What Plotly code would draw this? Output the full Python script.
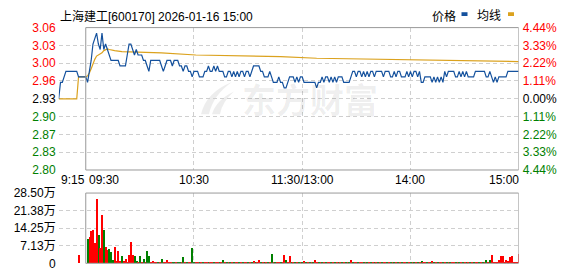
import plotly.graph_objects as go

# ---------------- data ----------------
title_text = "上海建工[600170] 2026-01-16 15:00"
legend_names = ["价格", "均线"]
watermark = "东方财富"

# minute offsets from 09:30 (negative = call auction 09:15-09:29)
pre_minutes = [-15, -14, -13, -12, -11, -10, -9, -8, -7, -6, -5, -4, -3, -2, -1]
pre_price = [2.93, 2.96, 2.96, 2.97, 2.98, 2.98, 2.98, 2.98, 2.98, 2.98, 2.98,
             2.97, 2.97, 2.97, 2.97]

minutes = list(range(0, 241))
price = [
    2.97, 2.96, 2.98, 3.00, 3.03, 3.04, 3.05, 3.03, 3.02, 3.05,
    3.02, 3.03, 3.02, 3.01, 3.00, 3.00, 3.00, 3.00, 3.00, 2.99,
    2.99, 2.99, 2.99, 3.01, 3.03, 3.03, 3.02, 3.01, 3.02, 3.01,
    3.01, 3.01, 3.00, 3.00, 2.99, 2.98, 3.00, 3.00, 3.00, 3.00,
    3.00, 3.00, 2.99, 2.98, 2.99, 3.00, 3.00, 3.00, 2.99, 3.00,
    3.00, 3.00, 2.99, 2.99, 2.98, 2.99, 2.99, 2.98, 2.98, 2.97,
    2.98, 2.98, 2.98, 2.97, 2.97, 2.97, 2.98, 2.98, 2.99, 2.98,
    2.98, 2.99, 2.98, 2.99, 2.98, 2.98, 2.98, 2.97, 2.97, 2.98,
    2.98, 2.97, 2.98, 2.97, 2.98, 2.97, 2.98, 2.98, 2.97, 2.98,
    2.98, 2.97, 2.98, 2.99, 2.99, 2.99, 2.99, 2.98, 2.98, 2.97,
    2.97, 2.97, 2.98, 2.97, 2.96, 2.96, 2.96, 2.97, 2.96, 2.96,
    2.95, 2.95, 2.96, 2.97, 2.97, 2.97, 2.96, 2.97, 2.96, 2.97,
    2.97, 2.96, 2.96, 2.96, 2.96, 2.96, 2.96, 2.96, 2.95, 2.96,
    2.96, 2.97, 2.96, 2.97, 2.97, 2.96, 2.97, 2.96, 2.97, 2.96,
    2.97, 2.97, 2.97, 2.96, 2.96, 2.96, 2.96, 2.97, 2.98, 2.98,
    2.97, 2.98, 2.98, 2.97, 2.98, 2.97, 2.98, 2.97, 2.98, 2.98,
    2.97, 2.98, 2.98, 2.98, 2.98, 2.97, 2.98, 2.98, 2.98, 2.97,
    2.97, 2.98, 2.97, 2.98, 2.98, 2.97, 2.97, 2.97, 2.98, 2.97,
    2.98, 2.97, 2.98, 2.98, 2.97, 2.98, 2.96, 2.96, 2.97, 2.97,
    2.97, 2.97, 2.96, 2.97, 2.96, 2.97, 2.96, 2.97, 2.96, 2.98,
    2.97, 2.98, 2.98, 2.98, 2.98, 2.97, 2.97, 2.98, 2.97, 2.98,
    2.97, 2.98, 2.97, 2.97, 2.97, 2.97, 2.98, 2.98, 2.98, 2.98,
    2.98, 2.98, 2.97, 2.97, 2.98, 2.97, 2.96, 2.97, 2.96, 2.97,
    2.97, 2.97, 2.97, 2.97, 2.98, 2.98, 2.98, 2.98, 2.98, 2.98,
    2.98,
]

avg_minutes = [-15, -5, -4, 0, 1, 2, 3, 4, 5, 6, 7, 8, 9, 10, 11, 12, 13, 14,
               16, 20, 42, 61, 88, 108, 128, 162, 186, 225, 240]
avg_price = [2.93, 2.93, 2.97, 2.970, 2.972, 2.977, 2.985, 2.994, 3.002, 3.008,
             3.010, 3.011, 3.014, 3.018, 3.020, 3.021, 3.020, 3.019,
             3.018, 3.016, 3.014, 3.010, 3.009, 3.007, 3.004, 3.002, 3.000,
             2.998, 2.998]

vol_minutes = [-4] + minutes
volume_wan = [3.5] + [
    0, 10.0, 10.5, 13.1, 13.5, 8.4, 26.2, 11.6, 6.2, 19.6,
    13.5, 6.4, 5.4, 5.8, 4.5, 1.5, 6.5, 1.0, 4.9, 1.0,
    3.1, 1.0, 1.9, 0.5, 3.5, 8.7, 3.2, 2.8, 0.9, 0.6,
    3.1, 0.7, 1.8, 0.7, 5.1, 3.1, 0.5, 1.0, 0.5, 0.4,
    0.4, 0.4, 1.9, 0.4, 0.4, 1.3, 0.4, 0.4, 0.4, 0.4,
    0.4, 0.4, 0.4, 0.4, 2.7, 0.4, 0.4, 0.4, 0.4, 6.2,
    0.3, 0.4, 0.5, 0.4, 0.3, 0.4, 0.4, 0.3, 0.4, 0.5,
    0.4, 0.4, 0.3, 0.4, 0.4, 0.4, 1.2, 0.4, 0.3, 0.4,
    0.4, 0.3, 0.4, 0.4, 0.4, 0.3, 0.4, 0.4, 0.5, 0.4,
    0.4, 0.4, 0.4, 0.8, 0.4, 0.3, 1.2, 0.4, 0.4, 0.3,
    0.4, 0.4, 0.4, 3.6, 0.4, 0.4, 0.3, 0.4, 0.4, 0.4,
    3.2, 1.5, 0.4, 2.8, 0.4, 0.4, 0.3, 0.4, 0.4, 0.4,
    0.4, 0.8, 0.4, 0.4, 0.3, 0.4, 0.4, 1.2, 0.4, 0.4,
    0.4, 0.3, 0.4, 0.4, 0.4, 0.4, 0.3, 0.4, 0.4, 0.4,
    0.4, 0.4, 0.3, 0.4, 0.4, 0.4, 0.4, 1.5, 0.4, 0.4,
    0.4, 0.3, 0.4, 0.4, 0.4, 0.4, 0.4, 0.3, 0.4, 0.4,
    0.4, 0.4, 0.3, 0.4, 0.4, 0.4, 0.4, 0.4, 0.3, 0.4,
    0.4, 0.4, 0.4, 0.3, 0.4, 0.4, 0.4, 0.4, 0.3, 0.4,
    0.4, 0.4, 0.4, 0.4, 0.3, 0.4, 0.8, 0.4, 0.4, 0.4,
    0.4, 0.3, 0.8, 0.4, 0.4, 0.4, 0.3, 0.4, 0.4, 0.4,
    0.4, 0.4, 0.3, 0.4, 0.4, 0.4, 0.4, 0.3, 0.4, 0.4,
    0.4, 0.4, 0.4, 0.3, 0.4, 0.4, 0.4, 0.4, 0.3, 0.4,
    0.4, 0.4, 1.2, 0.4, 1.2, 3.5, 0.6, 0.4, 0.3, 1.2,
    3.1, 2.8, 0.3, 1.2, 0.8, 2.4, 3.1, 0.3, 0.4, 0.4,
    3.8,
]
vol_dir = ("R"
           "RGRRRRRGRR" "GRRGGGRRRR" "GRRRRRRGGR" "GRGRGGRRRR" "GRGRRRRRGG"
           "RGGRGRGRRG" "GRRGRGRRGR" "RGRRGRGRGR" "GRGRRGRGRR" "GRGRGRRGRG"
           "RGRGRGRRGR" "RGRRGRGRGR" "GRGRGRGRRG" "RGRGRRGRGR" "GRGRGRGRGR"
           "RGRRGRGRGR" "GRGRGRRGRG" "RGRGRGRRGR" "GRGRGRGRRG" "RGRGRGRRGR"
           "GRGRRGRGRG" "RGRGRGRRGR" "GRGRGRRRRR" "RRRRRRRRRR" "R")

price_ticks = [2.80, 2.8325, 2.865, 2.8975, 2.93, 2.9625, 2.995, 3.0275, 3.06]
price_labels = ["2.80", "2.83", "2.87", "2.90", "2.93", "2.96", "3.00", "3.03", "3.06"]
pct_labels = ["4.44%", "3.33%", "2.22%", "1.11%", "0.00%", "1.11%", "2.22%", "3.33%", "4.44%"]
vol_ticks = [0, 7.125, 14.25, 21.375, 28.5]
vol_labels = ["0", "7.13万", "14.25万", "21.38万", "28.50万"]
time_ticks = [-15, 0, 60, 120, 180, 240]
time_labels = ["9:15", "09:30", "10:30", "11:30/13:00", "14:00", "15:00"]

# ---------------- style ----------------
W, H = 578, 276
BLUE = "#14519d"
GOLD = "#dba21e"
RED = "#ff0000"
GREEN = "#008000"
GRID = "#cfcfcf"
FRAME = "#999999"
FONT = "Liberation Sans, Arial, Noto Sans CJK SC, sans-serif"

X0, X1 = 58.7, 518.7
MAIN_T, MAIN_B = 21.7, 171.7
VOL_T, VOL_B = 196.0, 270.0


def px(x):
    return x / W


def py(y):
    return 1 - y / H


def colored(labels, mid_color):
    n = len(labels)
    out = []
    for i, t in enumerate(labels):
        c = GREEN if i < n // 2 else (mid_color if i == n // 2 else RED)
        out.append(f"<span style='color:{c}'>{t}</span>")
    return out


fig = go.Figure()

fig.add_trace(go.Scatter(x=avg_minutes, y=avg_price, mode="lines",
                         line=dict(color=GOLD, width=1.2), xaxis="x", yaxis="y",
                         hoverinfo="skip"))
fig.add_trace(go.Scatter(x=pre_minutes + minutes, y=pre_price + price, mode="lines",
                         line=dict(color=BLUE, width=1.2), xaxis="x", yaxis="y2",
                         hoverinfo="skip"))
fig.add_trace(go.Bar(x=vol_minutes, y=volume_wan, width=0.6,
                     marker=dict(color=[RED if d == "R" else GREEN for d in vol_dir],
                                 line=dict(width=0)),
                     xaxis="x2", yaxis="y3", hoverinfo="skip"))

grid = dict(showgrid=True, gridcolor=GRID, gridwidth=1, griddash="4px,3px",
            zeroline=False, showline=False, ticks="")

fig.update_layout(
    width=W, height=H, margin=dict(l=0, r=0, t=0, b=0),
    paper_bgcolor="white", plot_bgcolor="white", showlegend=False,
    font=dict(family=FONT, size=12, color="#000"),
    hovermode=False, bargap=0,
    xaxis=dict(domain=[px(X0), px(X1)], range=[-15, 240], anchor="y",
               tickvals=[-15, 60, 120, 180], showticklabels=False, **grid),
    xaxis2=dict(domain=[px(X0), px(X1)], range=[-15, 240], anchor="y3", matches="x",
                tickvals=[-15, 60, 120, 180], showticklabels=False, **grid),
    yaxis=dict(domain=[py(MAIN_B), py(MAIN_T)], range=[2.80, 3.06], anchor="x",
               tickvals=price_ticks, ticktext=colored(price_labels, "#000"),
               tickfont=dict(size=12), ticklabelstandoff=2, **grid),
    yaxis2=dict(overlaying="y", side="right", range=[2.80, 3.06], anchor="x",
                tickvals=price_ticks, ticktext=colored(pct_labels, "#000"),
                tickfont=dict(size=12), ticklabelstandoff=3,
                showgrid=False, zeroline=False, showline=False, ticks=""),
    yaxis3=dict(domain=[py(VOL_B), py(VOL_T)], range=[0, 28.5], anchor="x2",
                tickvals=vol_ticks, ticktext=vol_labels,
                tickfont=dict(size=12, color="#000"), ticklabelstandoff=2, **grid),
)

# frames around the trading session (09:30-15:00)
fig.add_shape(type="rect", xref="x", yref="y domain", x0=0, x1=240, y0=0, y1=1,
              line=dict(color=FRAME, width=1))
fig.add_shape(type="rect", xref="x2", yref="y3 domain", x0=0, x1=240, y0=0, y1=1,
              line=dict(color=FRAME, width=1))

# time labels
anchors = ["left", "left", "center", "center", "center", "right"]
shifts = [0, 1, 0, 0, 0, 2]
for t, lab, a, s in zip(time_ticks, time_labels, anchors, shifts):
    fig.add_annotation(x=t, xref="x", y=py(182), yref="paper", text=lab,
                       showarrow=False, xanchor=a, yanchor="middle", xshift=s,
                       font=dict(size=12, color="#000"))

# title
fig.add_annotation(x=px(58), y=py(9.5), xref="paper", yref="paper", text=title_text,
                   showarrow=False, xanchor="left", yanchor="middle",
                   font=dict(size=12, color="#000"))

# legend
fig.add_annotation(x=px(430), y=py(9.5), xref="paper", yref="paper", text=legend_names[0],
                   showarrow=False, xanchor="left", yanchor="middle",
                   font=dict(size=12, color="#000"))
fig.add_annotation(x=px(475), y=py(9.5), xref="paper", yref="paper", text=legend_names[1],
                   showarrow=False, xanchor="left", yanchor="middle",
                   font=dict(size=12, color="#000"))
fig.add_shape(type="rect", xref="paper", yref="paper", x0=px(461.5), x1=px(467.5),
              y0=py(9.5), y1=py(5.5), fillcolor=BLUE, line=dict(width=0))
fig.add_shape(type="rect", xref="paper", yref="paper", x0=px(508), x1=px(514),
              y0=py(9.5), y1=py(5.5), fillcolor=GOLD, line=dict(width=0))

# watermark (logo swoosh + text), drawn below the data
def pth(points):
    return " ".join(f"{c}{px(x):.5f},{py(y):.5f}" if c in "ML" else
                    (f"Q{px(x):.5f},{py(y):.5f} {px(x2):.5f},{py(y2):.5f}" if c == "Q" else "Z")
                    for c, x, y, x2, y2 in points)


swooshes = [
    [("M", 201, 113, 0, 0), ("Q", 206, 90, 232, 79), ("Q", 213, 93, 209, 113), ("Z", 0, 0, 0, 0)],
    [("M", 212, 113, 0, 0), ("Q", 216, 98, 234, 89), ("Q", 222, 100, 220, 113), ("Z", 0, 0, 0, 0)],
]
for s in swooshes:
    fig.add_shape(type="path", xref="paper", yref="paper", path=pth(s),
                  fillcolor="rgba(0,0,0,0.07)", line=dict(width=0), layer="below")

fig.add_annotation(x=px(310), y=py(96), xref="paper", yref="paper",
                   text=f"<b>{watermark}</b>", showarrow=False,
                   xanchor="center", yanchor="middle",
                   font=dict(size=34, color="rgba(0,0,0,0.07)",
                             family="Noto Sans CJK SC"))

fig.write_html("out.html")
